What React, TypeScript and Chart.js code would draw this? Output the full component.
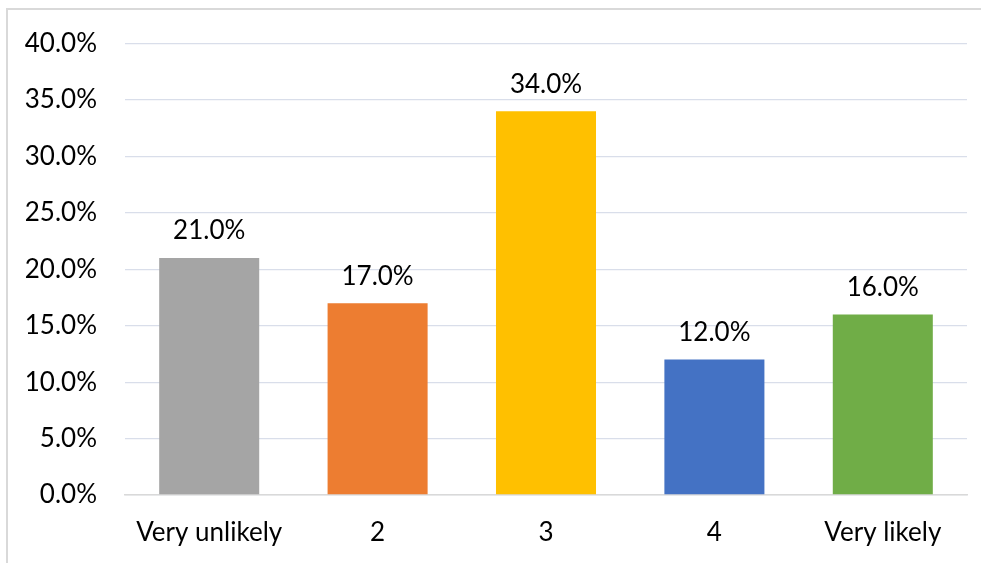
import React, { useEffect, useRef } from "react";
import { Chart, registerables } from "chart.js";

Chart.register(...registerables);

const categories = ["Very unlikely", "2", "3", "4", "Very likely"];
const shares = [21.0, 17.0, 34.0, 12.0, 16.0];
const barColors = ["#A5A5A5", "#ED7D31", "#FFC000", "#4472C4", "#70AD47"];
const yTicksMax = 40;
const yTickStep = 5;

const FONT = "Lato, 'Open Sans', sans-serif";
const FONT_SIZE = 26;

const valueLabels = {
  id: "valueLabels",
  afterDatasetsDraw(chart: any) {
    const { ctx } = chart;
    const meta = chart.getDatasetMeta(0);
    const data = chart.data.datasets[0].data as number[];
    ctx.save();
    ctx.font = `${FONT_SIZE}px ${FONT}`;
    ctx.fillStyle = "#000000";
    ctx.textAlign = "center";
    ctx.textBaseline = "middle";
    meta.data.forEach((bar: any, i: number) => {
      ctx.fillText(data[i].toFixed(1) + "%", bar.x, bar.y - 27);
    });
    ctx.restore();
  },
};

export default function App() {
  const canvasRef = useRef<HTMLCanvasElement | null>(null);

  useEffect(() => {
    if (!canvasRef.current) return;
    const chart = new Chart(canvasRef.current, {
      type: "bar",
      data: {
        labels: categories,
        datasets: [
          {
            data: shares,
            backgroundColor: barColors,
            borderWidth: 0,
            categoryPercentage: 1,
            barPercentage: 0.594,
          },
        ],
      },
      options: {
        animation: false,
        responsive: false,
        devicePixelRatio: 1,
        layout: { padding: { left: 0, right: 14, top: 40, bottom: 0 } },
        plugins: {
          legend: { display: false },
          tooltip: { enabled: false },
        },
        scales: {
          x: {
            grid: { display: false, drawTicks: false },
            border: { display: true, color: "#D9D9D9", width: 1.5 },
            ticks: {
              color: "#000000",
              font: { family: FONT, size: FONT_SIZE },
              padding: 22,
              maxRotation: 0,
              autoSkip: false,
            },
            afterFit: (scale: any) => {
              scale.height = 68;
            },
          },
          y: {
            min: 0,
            max: yTicksMax,
            grid: { color: "#D9DEEA", lineWidth: 1.3, drawTicks: false },
            border: { display: false },
            ticks: {
              stepSize: yTickStep,
              color: "#000000",
              font: { family: FONT, size: FONT_SIZE },
              padding: 28,
              callback: (v: any) => Number(v).toFixed(1) + "%",
            },
            afterFit: (scale: any) => {
              scale.width = 125;
            },
          },
        },
      },
      plugins: [valueLabels],
    });
    return () => chart.destroy();
  }, []);

  return (
    <div style={{ position: "fixed", left: 0, top: 0, width: 981, height: 563, background: "#ffffff" }}>
      <div
        style={{
          position: "absolute",
          left: 6,
          top: 8,
          width: 990,
          height: 600,
          borderLeft: "2px solid #D9D9D9",
          borderTop: "2px solid #D9D9D9",
        }}
      />
      <canvas
        ref={canvasRef}
        width={981}
        height={563}
        style={{ position: "absolute", left: 0, top: 0, width: 981, height: 563 }}
      />
    </div>
  );
}
